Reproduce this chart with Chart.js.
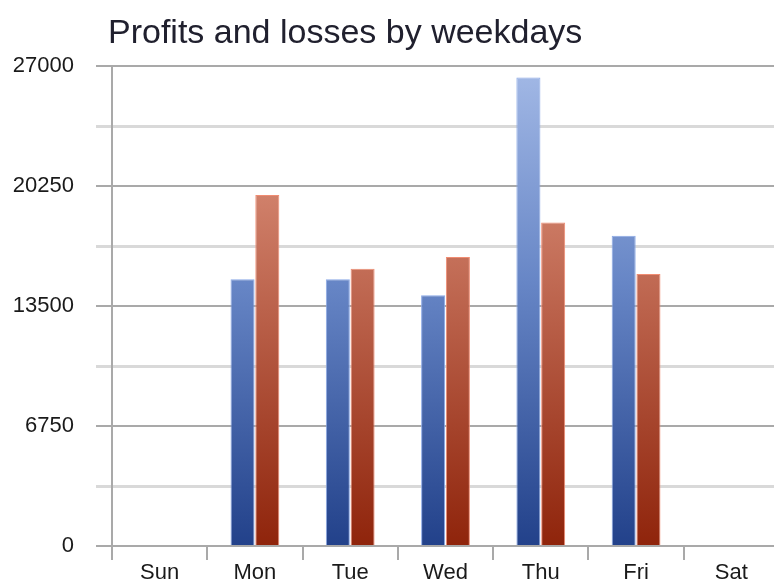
<!DOCTYPE html>
<html>
<head>
<meta charset="utf-8">
<title>Profits and losses by weekdays</title>
<script src="https://cdn.jsdelivr.net/npm/chart.js@4.4.1/dist/chart.umd.min.js"></script>
<style>
  html, body { margin: 0; padding: 0; background: #fff; overflow: hidden; }
  canvas { display: block; }
</style>
</head>
<body>
<canvas id="weekdayChart" width="779" height="583"></canvas>
<script>
// chart data
var chartTitle = 'Profits and losses by weekdays';
var weekdays = ['Sun', 'Mon', 'Tue', 'Wed', 'Thu', 'Fri', 'Sat'];
var profits = [null, 15000, 15000, 14100, 26350, 17450, null];
var losses = [null, 19750, 15600, 16250, 18200, 15300, null];
var yTickLabels = [0, 6750, 13500, 20250, 27000];
var yMinorStep = 3375;

// vertical gradient over the plot area
function barGradient(chart, stops) {
  var area = chart.chartArea;
  if (!area) return stops[0][1];
  var g = chart.ctx.createLinearGradient(0, area.top, 0, area.bottom);
  stops.forEach(function(s) { g.addColorStop(s[0], s[1]); });
  return g;
}

// title drawn over the plot's left edge
var titlePlugin = {
  id: 'leftTitle',
  afterDraw: function(chart) {
    var ctx = chart.ctx;
    ctx.save();
    ctx.font = '34px "Liberation Sans", Arial, sans-serif';
    ctx.fillStyle = '#20202e';
    ctx.textBaseline = 'alphabetic';
    ctx.textAlign = 'left';
    ctx.fillText(chartTitle, 108, 43);
    ctx.restore();
  }
};

var weekdayCtx = document.getElementById('weekdayChart').getContext('2d');
var weekdayChart = new Chart(weekdayCtx, {
  type: 'bar',
  data: {
    labels: weekdays,
    datasets: [{
      label: 'Profits',
      data: profits,
      backgroundColor: function(c) {
        return barGradient(c.chart, [[0, '#a3b9e6'], [0.45, '#6786c6'], [1, '#22418a']]);
      },
      borderColor: '#8aa8e6',
      borderWidth: 1
    }, {
      label: 'Losses',
      data: losses,
      backgroundColor: function(c) {
        return barGradient(c.chart, [[0, '#e09a86'], [0.27, '#d0806a'], [1, '#8f240b']]);
      },
      borderColor: '#f08c72',
      borderWidth: 1
    }]
  },
  options: {
    responsive: false,
    animation: false,
    devicePixelRatio: 1,
    layout: { padding: { top: 66, left: 0, right: 0, bottom: 0 } },
    categoryPercentage: 0.52,
    barPercentage: 0.97,
    plugins: {
      legend: { display: false },
      title: { display: false },
      tooltip: { enabled: false }
    },
    scales: {
      x: {
        offset: true,
        grid: {
          offset: true,
          drawOnChartArea: false,
          drawTicks: true,
          tickLength: 14,
          color: '#a9a9a9',
          lineWidth: 2
        },
        border: { display: true, color: '#a9a9a9', width: 2 },
        ticks: {
          padding: 0,
          color: '#1a1a1a',
          font: { family: '"Liberation Sans", Arial, sans-serif', size: 22 }
        },
        afterFit: function(scale) { scale.height = 37; }
      },
      y: {
        min: 0,
        max: 27000,
        grid: {
          tickLength: 16,
          color: function(c) {
            return yTickLabels.indexOf(c.tick.value) >= 0 ? '#a9a9a9' : '#d9d9d9';
          },
          lineWidth: function(c) {
            return yTickLabels.indexOf(c.tick.value) >= 0 ? 2 : 3;
          }
        },
        border: { display: true, color: '#a9a9a9', width: 2 },
        ticks: {
          stepSize: yMinorStep,
          padding: 22,
          color: '#1a1a1a',
          font: { family: '"Liberation Sans", Arial, sans-serif', size: 22 },
          callback: function(value) {
            return yTickLabels.indexOf(value) >= 0 ? String(value) : '';
          }
        },
        afterFit: function(scale) { scale.width = 112; }
      }
    }
  },
  plugins: [titlePlugin]
});
</script>
</body>
</html>
